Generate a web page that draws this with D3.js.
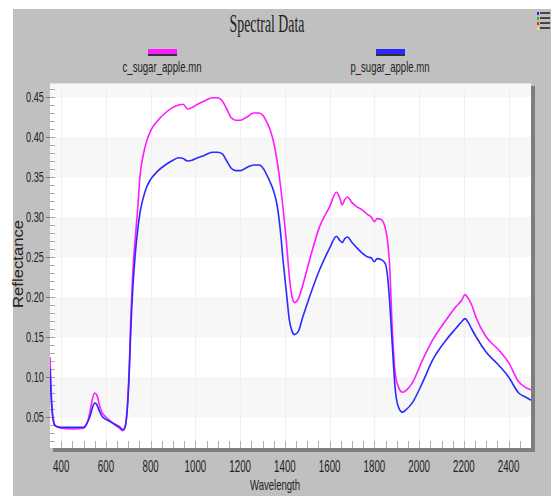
<!DOCTYPE html>
<html><head><meta charset="utf-8">
<script src="https://cdn.jsdelivr.net/npm/d3@7"></script>
<style>html,body{margin:0;padding:0;background:#fff}svg{display:block}</style>
</head><body>
<svg id="chart" width="551" height="496"></svg>
<script>
const wavelengths = [350,355,360,365,370,380,400,450,500,515,530,540,550,560,570,580,600,620,640,660,675,685,695,705,712,720,730,742,752,765,780,800,830,865,900,925,945,965,985,1010,1040,1075,1100,1120,1140,1160,1180,1200,1230,1260,1285,1305,1320,1335,1350,1365,1380,1392,1407,1420,1432,1443,1460,1480,1510,1555,1600,1630,1645,1656,1668,1680,1700,1720,1745,1770,1786,1800,1812,1830,1848,1858,1868,1880,1893,1908,1925,1945,1970,2015,2060,2120,2165,2190,2205,2220,2235,2255,2300,2355,2400,2445,2475,2500];
const c_sugar = [.125,.085,.060,.047,.041,.038,.036,.035,.036,.042,.058,.073,.080,.077,.066,.057,.050,.045,.040,.036,.033,.037,.060,.120,.180,.230,.270,.310,.350,.375,.393,.408,.420,.430,.437,.440,.441,.435,.437,.441,.445,.449,.449,.445,.435,.424,.421,.421,.425,.430,.430,.426,.418,.408,.393,.370,.340,.310,.268,.225,.200,.193,.198,.215,.246,.288,.313,.331,.324,.315,.322,.325,.318,.313,.309,.303,.300,.294,.298,.297,.287,.272,.240,.160,.105,.087,.081,.084,.093,.121,.146,.171,.188,.196,.203,.198,.190,.174,.150,.134,.118,.094,.087,.084];
const p_sugar = [.110,.075,.055,.045,.040,.038,.037,.037,.037,.042,.052,.062,.0675,.065,.058,.052,.047,.044,.041,.038,.034,.037,.058,.110,.165,.210,.250,.284,.305,.322,.336,.347,.357,.365,.371,.374,.373,.370,.371,.374,.377,.381,.381,.379,.370,.361,.358,.358,.362,.365,.365,.360,.352,.343,.332,.315,.282,.245,.205,.171,.157,.153,.157,.175,.200,.234,.261,.276,.271,.268,.273,.275,.268,.262,.255,.250,.249,.244,.248,.247,.242,.228,.195,.140,.085,.062,.056,.060,.068,.093,.121,.146,.161,.169,.173,.168,.160,.150,.131,.115,.100,.080,.075,.071];
const seriesNames = ["c_sugar_apple.mn","p_sugar_apple.mn"];
const seriesColors = ["#ff1aff","#2a2aff"];
const xTickValues = [400,600,800,1000,1200,1400,1600,1800,2000,2200,2400];
const yTickValues = [0.05,0.10,0.15,0.20,0.25,0.30,0.35,0.40,0.45];

const svg = d3.select("#chart");
const L=50, R=531, T=83, B=448;
const x = d3.scaleLinear().domain([350,2500]).range([L,R]);
const y = d3.scaleLinear().domain([0.01125,0.4675]).range([B,T]);

// backgrounds
svg.append("rect").attr("x",13).attr("y",9).attr("width",551-13).attr("height",496-9).attr("fill","#c0c0c0");
svg.append("rect").attr("x",R).attr("y",T+3).attr("width",4).attr("height",B-T+1).attr("fill","#7e7e7e");
svg.append("rect").attr("x",L+3).attr("y",B).attr("width",R-L+1).attr("height",4).attr("fill","#7e7e7e");
svg.append("rect").attr("x",L).attr("y",T).attr("width",R-L).attr("height",B-T).attr("fill","#fff");

// bands
const bands = [[0.45,0.4675],[0.35,0.40],[0.25,0.30],[0.15,0.20],[0.05,0.10]];
svg.selectAll("rect.band").data(bands).enter().append("rect").attr("class","band")
  .attr("x",L).attr("width",R-L).attr("y",d=>y(d[1])).attr("height",d=>y(d[0])-y(d[1])).attr("fill","#f7f7f7");
// vertical grid
svg.selectAll("line.vg").data(xTickValues).enter().append("line").attr("class","vg")
  .attr("x1",d=>Math.round(x(d))+0.5).attr("x2",d=>Math.round(x(d))+0.5).attr("y1",T).attr("y2",B).attr("stroke","#f0f0f0").attr("stroke-width",1);
svg.append("line").attr("x1",L).attr("x2",R).attr("y1",T+0.5).attr("y2",T+0.5).attr("stroke","#e0e0e0");

// y minor ticks
const yMinor = d3.range(0.02,0.465,0.01);
svg.selectAll("line.ym").data(yMinor).enter().append("line").attr("class","ym")
  .attr("x1",L).attr("x2",L+5).attr("y1",d=>Math.round(y(d))+0.5).attr("y2",d=>Math.round(y(d))+0.5).attr("stroke","#a8a8a8");
svg.selectAll("line.yM").data(yTickValues).enter().append("line").attr("class","yM")
  .attr("x1",L-4).attr("x2",L).attr("y1",d=>Math.round(y(d))+0.5).attr("y2",d=>Math.round(y(d))+0.5).attr("stroke","#777");
// x minor ticks
const xMinor = d3.range(400,2500,50);
svg.selectAll("line.xm").data(xMinor).enter().append("line").attr("class","xm")
  .attr("x1",d=>Math.round(x(d))+0.5).attr("x2",d=>Math.round(x(d))+0.5).attr("y1",B-7).attr("y2",B).attr("stroke","#b0b0b0");

// lines
svg.append("clipPath").attr("id","clip").append("rect").attr("x",L).attr("y",T).attr("width",R-L).attr("height",B-T);
const line = d3.line().x(d=>x(d[0])).y(d=>y(d[1])).curve(d3.curveMonotoneX);
[c_sugar,p_sugar].forEach((vals,i)=>{
  svg.append("path").datum(wavelengths.map((w,k)=>[w,vals[k]]))
    .attr("d",line).attr("fill","none").attr("stroke",seriesColors[i]).attr("stroke-width",1.6)
    .attr("clip-path","url(#clip)");
});

const sans = "Liberation Sans, Arial, sans-serif";
// y tick labels
svg.selectAll("text.yl").data(yTickValues).enter().append("text").attr("class","yl")
  .attr("x",44).attr("y",d=>y(d)+5).attr("text-anchor","end")
  .attr("font-family",sans).attr("font-size",14).attr("fill","#222")
  .attr("textLength",18).attr("lengthAdjust","spacingAndGlyphs")
  .text(d=>d3.format(".2f")(d));
// x tick labels
svg.selectAll("text.xl").data(xTickValues).enter().append("text").attr("class","xl")
  .attr("x",d=>x(d)).attr("y",472).attr("text-anchor","middle")
  .attr("font-family",sans).attr("font-size",16).attr("fill","#222")
  .attr("textLength",d=>String(d).length*5.4).attr("lengthAdjust","spacingAndGlyphs")
  .text(d=>d);
// axis titles
svg.append("text").attr("x",275).attr("y",490).attr("text-anchor","middle")
  .attr("font-family",sans).attr("font-size",15).attr("fill","#222")
  .attr("textLength",50).attr("lengthAdjust","spacingAndGlyphs").text("Wavelength");
svg.append("text").attr("transform","translate(23,264) rotate(-90)").attr("text-anchor","middle")
  .attr("font-family",sans).attr("font-size",15).attr("fill","#222")
  .attr("textLength",88).attr("lengthAdjust","spacingAndGlyphs").text("Reflectance");
// title
svg.append("text").attr("x",267).attr("y",32).attr("text-anchor","middle")
  .attr("font-family","Liberation Serif, Times New Roman, serif").attr("font-size",25).attr("fill","#222")
  .attr("textLength",75).attr("lengthAdjust","spacingAndGlyphs").text("Spectral Data");
// legend
const legX = [162,390];
seriesNames.forEach((n,i)=>{
  svg.append("rect").attr("x",legX[i]-14).attr("y",50).attr("width",29).attr("height",6).attr("fill","#333");
  svg.append("rect").attr("x",legX[i]-14).attr("y",49).attr("width",29).attr("height",5).attr("fill",seriesColors[i]);
  svg.append("text").attr("x",legX[i]).attr("y",72).attr("text-anchor","middle")
    .attr("font-family",sans).attr("font-size",15).attr("fill","#222")
    .attr("textLength",79).attr("lengthAdjust","spacingAndGlyphs").text(n);
});
// menu icon
const iconColors = ["#2222ff","#22bb22","#ee2222","#eeee22"];
iconColors.forEach((c,i)=>{
  const yy = 12 + i*5;
  svg.append("rect").attr("x",537).attr("y",yy).attr("width",2).attr("height",3).attr("fill",c);
  svg.append("rect").attr("x",540).attr("y",yy).attr("width",10).attr("height",2).attr("fill","#444");
});
</script>
</body></html>
